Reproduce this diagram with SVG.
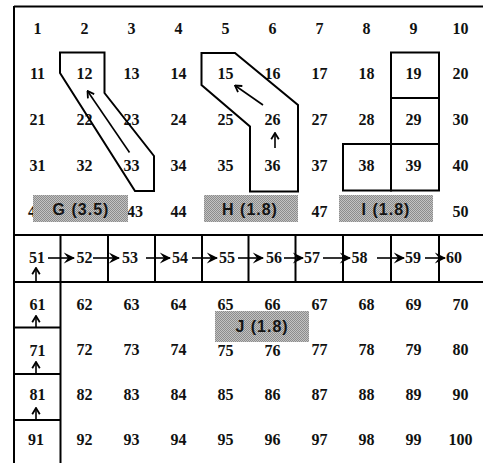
<svg xmlns="http://www.w3.org/2000/svg" width="483" height="463" viewBox="0 0 483 463">
<style>
.n{font-family:"Liberation Serif","Times New Roman",serif;font-size:16px;font-weight:bold;text-anchor:middle;fill:#111}
.l{font-family:"Liberation Sans",Arial,sans-serif;font-size:16px;font-weight:bold;text-anchor:middle;fill:#141414}
.ln{stroke:#000;stroke-width:2;fill:none}
.ar{stroke:#000;stroke-width:1.6;fill:none}
.gb{fill:url(#ht)}
</style>
<defs>
<pattern id="ht" width="2" height="2" patternUnits="userSpaceOnUse">
<rect width="2" height="2" fill="#c2c2c2"/>
<rect width="1" height="1" fill="#8c8c8c"/>
<rect x="1" y="1" width="1" height="1" fill="#8c8c8c"/>
</pattern>
<marker id="ah" viewBox="0 0 10 10" refX="9" refY="5" markerWidth="12" markerHeight="12" markerUnits="userSpaceOnUse" orient="auto">
<path d="M0.5,0.5 L10,5 L0.5,9.5 L4,5 Z" fill="#000"/>
</marker>
<marker id="av" viewBox="0 0 10 10" refX="9" refY="5" markerWidth="9" markerHeight="10" markerUnits="userSpaceOnUse" orient="auto">
<path d="M2,0.8 L9,5 L2,9.2" fill="none" stroke="#000" stroke-width="2"/>
</marker>
</defs>
<rect width="483" height="463" fill="#fff"/>

<g id="frame" class="ln">
<line x1="14" y1="6.5" x2="483" y2="6.5"/>
<line x1="14" y1="6" x2="14" y2="463"/>
<line x1="14" y1="235" x2="483" y2="235"/>
<line x1="14" y1="282" x2="483" y2="282"/>
<line x1="60.5" y1="235" x2="60.5" y2="463"/>
<line x1="108" y1="235" x2="108" y2="282"/>
<line x1="155" y1="235" x2="155" y2="282"/>
<line x1="202" y1="235" x2="202" y2="282"/>
<line x1="248.5" y1="235" x2="248.5" y2="282"/>
<line x1="295.5" y1="235" x2="295.5" y2="282"/>
<line x1="343" y1="235" x2="343" y2="282"/>
<line x1="391" y1="235" x2="391" y2="282"/>
<line x1="439" y1="235" x2="439" y2="282"/>
<line x1="14" y1="327.5" x2="60.5" y2="327.5"/>
<line x1="14" y1="374" x2="60.5" y2="374"/>
<line x1="14" y1="420" x2="60.5" y2="420"/>
</g>

<g id="numbers" class="n">
<text x="37.5" y="34">1</text><text x="84.5" y="34">2</text><text x="131.5" y="34">3</text><text x="178.5" y="34">4</text><text x="225.5" y="34">5</text><text x="272.5" y="34">6</text><text x="319.5" y="34">7</text><text x="366.5" y="34">8</text><text x="413.5" y="34">9</text><text x="460.5" y="34">10</text>
<text x="37.5" y="79">11</text><text x="84.5" y="79">12</text><text x="131.5" y="79">13</text><text x="178.5" y="79">14</text><text x="225.5" y="79">15</text><text x="272.5" y="79">16</text><text x="319.5" y="79">17</text><text x="366.5" y="79">18</text><text x="413.5" y="79">19</text><text x="460.5" y="79">20</text>
<text x="37.5" y="125">21</text><text x="84.5" y="125">22</text><text x="131.5" y="125">23</text><text x="178.5" y="125">24</text><text x="225.5" y="125">25</text><text x="272.5" y="125">26</text><text x="319.5" y="125">27</text><text x="366.5" y="125">28</text><text x="413.5" y="125">29</text><text x="460.5" y="125">30</text>
<text x="37.5" y="171">31</text><text x="84.5" y="171">32</text><text x="131.5" y="171">33</text><text x="178.5" y="171">34</text><text x="225.5" y="171">35</text><text x="272.5" y="171">36</text><text x="319.5" y="171">37</text><text x="366.5" y="171">38</text><text x="413.5" y="171">39</text><text x="460.5" y="171">40</text>
<text x="36" y="217">41</text><text x="135" y="217">43</text><text x="178.5" y="217">44</text><text x="319.5" y="217">47</text><text x="460.5" y="217">50</text>
<text x="37.5" y="310">61</text><text x="84.5" y="310">62</text><text x="131.5" y="310">63</text><text x="178.5" y="310">64</text><text x="225.5" y="310">65</text><text x="272.5" y="310">66</text><text x="319.5" y="310">67</text><text x="366.5" y="310">68</text><text x="413.5" y="310">69</text><text x="460.5" y="310">70</text>
<text x="37.5" y="356">71</text><text x="84.5" y="355">72</text><text x="131.5" y="355">73</text><text x="178.5" y="355">74</text><text x="225.5" y="356">75</text><text x="272.5" y="356">76</text><text x="319.5" y="355">77</text><text x="366.5" y="355">78</text><text x="413.5" y="355">79</text><text x="460.5" y="355">80</text>
<text x="37.5" y="400">81</text><text x="84.5" y="400">82</text><text x="131.5" y="400">83</text><text x="178.5" y="400">84</text><text x="225.5" y="400">85</text><text x="272.5" y="400">86</text><text x="319.5" y="400">87</text><text x="366.5" y="400">88</text><text x="413.5" y="400">89</text><text x="460.5" y="400">90</text>
<text x="36" y="445">91</text><text x="84.5" y="445">92</text><text x="131.5" y="445">93</text><text x="178.5" y="445">94</text><text x="225.5" y="445">95</text><text x="272.5" y="445">96</text><text x="319.5" y="445">97</text><text x="366.5" y="445">98</text><text x="413.5" y="445">99</text><text x="460.5" y="445">100</text>
</g>

<g id="chain" class="n">
<text x="37" y="263">51</text><text x="84.5" y="263">52</text><text x="130" y="263">53</text><text x="180" y="263">54</text><text x="227" y="263">55</text><text x="274" y="263">56</text><text x="312" y="263">57</text><text x="359.5" y="263">58</text><text x="413" y="263">59</text><text x="454" y="263">60</text>
</g>

<g id="region-G">
<polygon class="ln" points="60,52.5 104.5,52.5 104.5,93 154,156 154,191 135,191 60,73"/>
<rect class="gb" x="33" y="195" width="95" height="27"/>
<text class="l" x="81" y="214.5" letter-spacing="1">G (3.5)</text>
</g>

<g id="region-H">
<polygon class="ln" points="201.5,53 235,53 298,105 298,191.5 250,191.5 250,126.5 201.5,85"/>
<rect class="gb" x="204" y="195" width="94" height="27"/>
<text class="l" x="250" y="214.5" letter-spacing="1">H (1.8)</text>
</g>

<g id="region-I">
<rect class="ln" x="391" y="52.5" width="48" height="45.5"/>
<rect class="ln" x="391" y="98" width="48" height="46"/>
<rect class="ln" x="343" y="144" width="48" height="46.5"/>
<rect class="ln" x="391" y="144" width="48" height="46.5"/>
<rect class="gb" x="339" y="195" width="94" height="27"/>
<text class="l" x="386" y="214.5" letter-spacing="1">I (1.8)</text>
</g>

<g id="region-J">
<rect class="gb" x="215" y="311" width="94" height="31"/>
<text class="l" x="262" y="332" font-size="17" letter-spacing="1">J (1.8)</text>
</g>

<g id="connectors">
<line class="ar" x1="48" y1="258" x2="74" y2="258" marker-end="url(#ah)"/>
<line class="ar" x1="93" y1="258" x2="119" y2="258" marker-end="url(#ah)"/>
<line class="ar" x1="146" y1="258" x2="170" y2="258" marker-end="url(#ah)"/>
<line class="ar" x1="192" y1="258" x2="217" y2="258" marker-end="url(#ah)"/>
<line class="ar" x1="238" y1="258" x2="263" y2="258" marker-end="url(#ah)"/>
<line class="ar" x1="284" y1="258" x2="303" y2="258" marker-end="url(#ah)"/>
<line class="ar" x1="323" y1="258" x2="350" y2="258" marker-end="url(#ah)"/>
<line class="ar" x1="377" y1="258" x2="404" y2="258" marker-end="url(#ah)"/>
<line class="ar" x1="425" y1="258" x2="445" y2="258" marker-end="url(#ah)"/>
<line class="ar" x1="36" y1="282" x2="36" y2="268" marker-end="url(#av)"/>
<line class="ar" x1="36" y1="327" x2="36" y2="316" marker-end="url(#av)"/>
<line class="ar" x1="36" y1="374" x2="36" y2="362" marker-end="url(#av)"/>
<line class="ar" x1="36" y1="420" x2="36" y2="408" marker-end="url(#av)"/>
<line class="ar" x1="129.5" y1="152.5" x2="87.5" y2="91" stroke-width="2" marker-end="url(#av)"/>
<line class="ar" x1="263" y1="105" x2="235" y2="85.5" stroke-width="2" marker-end="url(#av)"/>
<line class="ar" x1="275" y1="148" x2="275" y2="133" stroke-width="2" marker-end="url(#av)"/>
</g>
</svg>
